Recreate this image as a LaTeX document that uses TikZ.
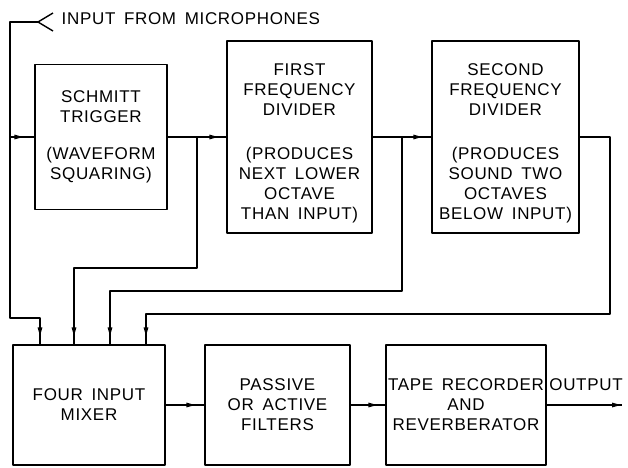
\documentclass[tikz,border=0pt]{standalone}
\usepackage{fontspec}
\newfontfamily\lettering[LetterSpace=4,WordSpace=1.6]{Liberation Sans}
\usetikzlibrary{arrows.meta,decorations.markings,calc}
\begin{document}
\begin{tikzpicture}[x=1pt, y=-1pt, line join=round, line width=1.4pt,
  block/.style={draw, align=center, inner sep=0pt, font=\lettering\fontsize{17}{20}\selectfont},
  words/.style={inner sep=0pt, font=\lettering\fontsize{17}{20}\selectfont},
  arrat/.style={decoration={markings, mark=at position #1 with {\arrow{Triangle[length=9pt,width=4.5pt]}}}, postaction={decorate}}]
\useasboundingbox (0,0) rectangle (628,467);
% upper row
\node[block, minimum width=132pt, minimum height=145pt] (schmitt) at (101,137) {SCHMITT\\TRIGGER\\[17pt](WAVEFORM\\SQUARING)};
\node[block, minimum width=145pt, minimum height=192pt] (divA) at (299.5,137) {\rule{0pt}{24pt}FIRST\\FREQUENCY\\DIVIDER\\[24pt](PRODUCES\\NEXT LOWER\\OCTAVE\\THAN INPUT)};
\node[block, minimum width=147pt, minimum height=192pt] (divB) at (505.5,137) {\rule{0pt}{24pt}SECOND\\FREQUENCY\\DIVIDER\\[24pt](PRODUCES\\SOUND TWO\\OCTAVES\\BELOW INPUT)};
% lower row
\node[block, minimum width=152pt, minimum height=120pt] (mixer) at (89,405) {FOUR INPUT\\MIXER};
\node[block, minimum width=145pt, minimum height=120pt] (filters) at (277.5,405) {PASSIVE\\OR ACTIVE\\FILTERS};
\node[block, minimum width=160pt, minimum height=120pt] (tape) at (466,405) {TAPE RECORDER\\AND\\REVERBERATOR};
% labels
\node[words, anchor=west] (inlbl) at (61,19) {INPUT FROM MICROPHONES};
\node[words] (outlbl) at (586,385) {OUTPUT};
\coordinate (in) at (38,22);
\coordinate (lt) at (10,22);
\coordinate (lb) at (10,318);
\coordinate (ba) at ($(schmitt.east)!.5!(divA.west)$);
\coordinate (bb) at ($(divA.east)!.5!(divB.west)$);
\coordinate (rt) at (610,137);
\coordinate (out) at (622,405);
% input
\draw ([shift={(15,-9)}]in) -- (in) -- ([shift={(15,9)}]in);
\draw[arrat=-8pt] (in) -- (lt) -- (lb) -| ([xshift=-49pt]mixer.north);
\draw[arrat=.55] (lt |- schmitt.west) -- (schmitt.west);
% chain and taps
\draw[arrat=-8pt] (schmitt.east) -- (divA.west);
\draw[arrat=-8pt] (ba) -- ++(0,131) -| ([xshift=-15pt]mixer.north);
\draw[arrat=-9pt] (divA.east) -- (divB.west);
\draw[arrat=-8pt] (bb) -- ++(0,154) -| ([xshift=21pt]mixer.north);
\draw[arrat=-8pt] (divB.east) -- (rt) -- ++(0,177) -| ([xshift=57pt]mixer.north);
\draw[arrat=-9pt] (mixer) -- (filters);
\draw[arrat=-8pt] (filters) -- (tape);
\draw[arrat=-1pt] (tape) -- (out);
\end{tikzpicture}
\end{document}
